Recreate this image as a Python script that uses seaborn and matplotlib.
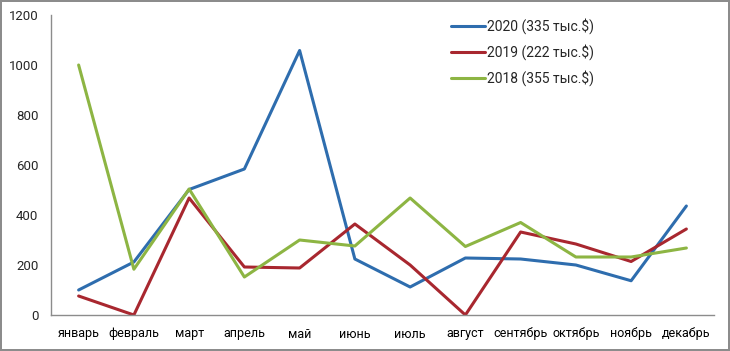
import pandas as pd
import seaborn as sns
import matplotlib.pyplot as plt
from matplotlib.ticker import FixedLocator

months = ["январь", "февраль", "март", "апрель", "май", "июнь",
          "июль", "август", "сентябрь", "октябрь", "ноябрь", "декабрь"]
series_names = ["2020 (335 тыс.$)", "2019 (222 тыс.$)", "2018 (355 тыс.$)"]
v2020 = [100, 212, 502, 584, 1058, 224, 112, 228, 224, 200, 137, 436]
v2019 = [76, 0, 468, 192, 188, 364, 200, 0, 332, 284, 214, 344]
v2018 = [1000, 183, 504, 152, 300, 276, 468, 274, 370, 232, 232, 268]
colors = ["#2E6DAE", "#A8272F", "#8DB543"]

rows = []
for name, vals in zip(series_names, [v2020, v2019, v2018]):
    for i, (m, v) in enumerate(zip(months, vals)):
        rows.append({"pos": i, "month": m, "value": v, "series": name})
df = pd.DataFrame(rows)

sns.set_style("white")
plt.rcParams["font.family"] = ["Roboto", "DejaVu Sans"]

fig = plt.figure(figsize=(7.3, 3.51), dpi=100)
fig.patch.set_edgecolor("#8c8c8c")
fig.patch.set_linewidth(1.5)
ax = fig.add_axes([51 / 730, 1 - 315 / 351, (714 - 51) / 730, 300 / 351])

sns.lineplot(data=df, x="pos", y="value", hue="series", hue_order=series_names,
             palette=colors, linewidth=2.2, ax=ax)

ax.set_xlim(-0.5, 11.5)
ax.set_ylim(0, 1200)
ax.set_yticks(range(0, 1201, 200))
ax.set_xticks(range(12))
ax.set_xticklabels(months)
ax.xaxis.set_minor_locator(FixedLocator([i - 0.5 for i in range(13)]))
ax.tick_params(axis="x", which="major", length=0, pad=9, labelsize=9, colors="#000000")
ax.tick_params(axis="x", which="minor", length=5, width=1, color="#8c8c8c", direction="out")
ax.tick_params(axis="y", length=5, width=1, color="#8c8c8c", direction="out",
               labelsize=9.5, pad=4)
ax.set_xlabel("")
ax.set_ylabel("")
for s in ["top", "right"]:
    ax.spines[s].set_visible(False)
for s in ["left", "bottom"]:
    ax.spines[s].set_color("#8c8c8c")
    ax.spines[s].set_linewidth(1)

leg = ax.legend(loc="upper left", bbox_to_anchor=(0.585, 1.03), frameon=False,
                fontsize=10, handlelength=2.4, handletextpad=0.2, labelspacing=0.72)
for line in leg.get_lines():
    line.set_linewidth(2.2)

fig.savefig("out.png", dpi=100, edgecolor=fig.get_edgecolor())
